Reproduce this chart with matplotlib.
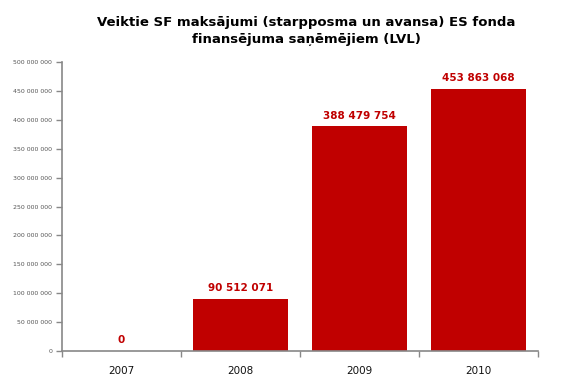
import matplotlib
matplotlib.use("Agg")
import matplotlib.pyplot as plt

years = ["2007", "2008", "2009", "2010"]
values = [0, 90512071, 388479754, 453863068]
yticks = list(range(0, 500000001, 50000000))

def fmt(v):
    return f"{v:,}".replace(",", " ")

fig = plt.figure(figsize=(5.83, 3.83), dpi=100)
ax = fig.add_axes([0.1063, 0.0835, 0.8167, 0.7545])
red = "#C00000"
x = list(range(len(years)))
ax.bar(x, values, width=0.8, color=red, zorder=2)
ax.set_xlim(-0.5, len(years) - 0.5)
ax.set_ylim(0, 500000000)
ax.set_yticks(yticks)
ax.set_yticklabels([fmt(v) for v in yticks], fontsize=4.5, color="#555555")
ax.set_xticks(x)
ax.set_xticklabels(years, fontsize=7.5, color="#111111")
ax.set_xticks([i - 0.5 for i in range(len(years) + 1)], minor=True)
ax.tick_params(axis="x", which="major", length=0, pad=11)
ax.tick_params(axis="x", which="minor", length=4, color="#888888", width=1, direction="out")
ax.tick_params(axis="y", length=4, color="#888888", width=1, direction="out", pad=3)
for s in ["top", "right"]:
    ax.spines[s].set_visible(False)
for s in ["left", "bottom"]:
    ax.spines[s].set_color("#888888")
    ax.spines[s].set_linewidth(1.2)
for xi, v in zip(x, values):
    ax.annotate(fmt(v), (xi, v), xytext=(0, 4), textcoords="offset points",
                ha="center", va="bottom", fontsize=7.5, fontweight="bold", color=red)
fig.text(0.525, 0.919, "Veiktie SF maksājumi (starpposma un avansa) ES fonda\nfinansējuma saņēmējiem (LVL)",
         ha="center", va="center", fontsize=9.5, fontweight="bold", linespacing=1.45)
fig.savefig("out.png", dpi=100)
